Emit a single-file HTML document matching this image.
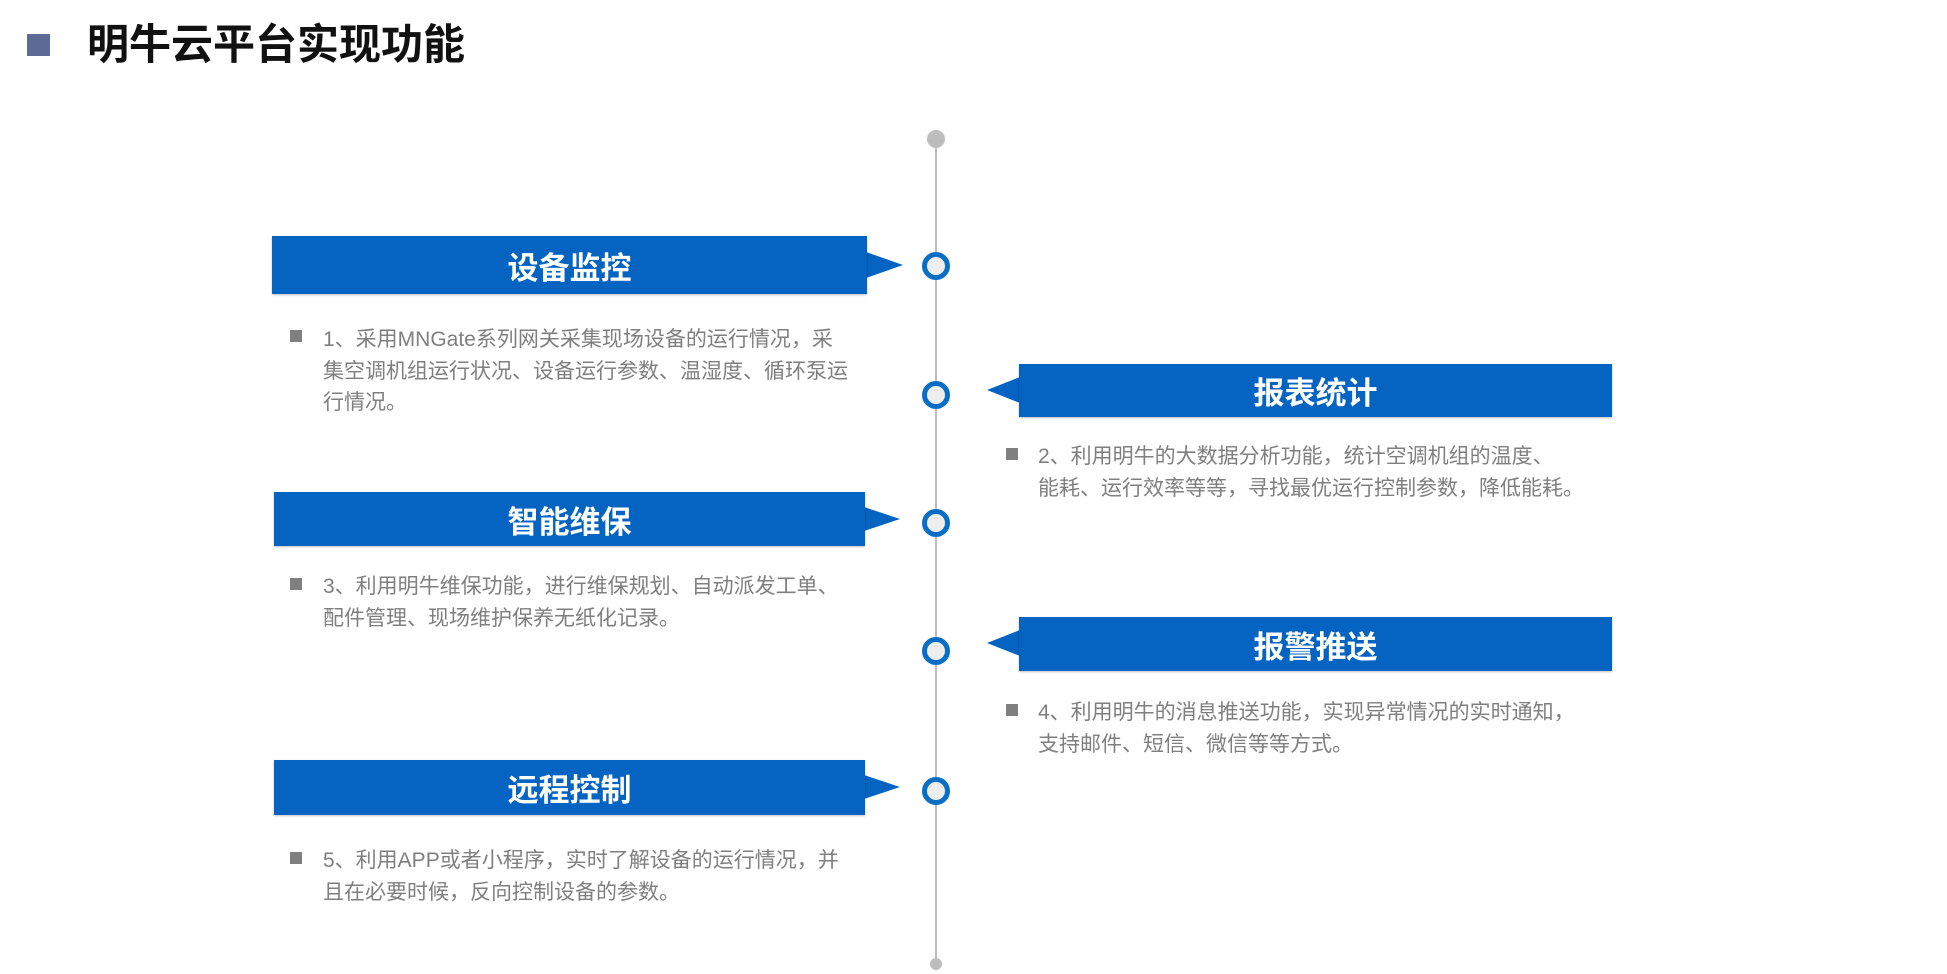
<!DOCTYPE html>
<html><head><meta charset="utf-8"><style>
body{margin:0;width:1947px;height:974px;background:#fff;position:relative;overflow:hidden;font-family:"Liberation Sans","Noto Sans CJK SC",sans-serif}
.a{position:absolute}
.box{position:absolute;background:#0563c1;color:#fff;font-weight:bold;font-size:31px;display:flex;align-items:center;justify-content:center;box-shadow:0 1px 2px rgba(0,0,0,.25)}
.t{position:absolute;color:#7f7f7f;font-size:21px;line-height:31.5px;white-space:nowrap}
.b{position:absolute;width:12px;height:12px;background:#7f7f7f}
.c{position:absolute;width:18px;height:18px;border:5.5px solid #0a6fc4;border-radius:50%;background:#eee}
</style></head><body>
<div class="a" style="left:27px;top:34px;width:23px;height:22px;background:#5b6b96"></div>
<div class="a" style="left:87px;top:19px;font-size:42px;font-weight:bold;color:#111;line-height:52px">明牛云平台实现功能</div>
<div class="a" style="left:935px;top:139px;width:2px;height:826px;background:#bdbdbd"></div>
<div class="a" style="left:927px;top:130px;width:18px;height:18px;border-radius:50%;background:#bdbdbd"></div>
<div class="a" style="left:930px;top:958px;width:12px;height:12px;border-radius:50%;background:#bdbdbd"></div>
<div class="c" style="left:922px;top:252px"></div>
<div class="c" style="left:922px;top:381px"></div>
<div class="c" style="left:922px;top:509px"></div>
<div class="c" style="left:922px;top:637px"></div>
<div class="c" style="left:922px;top:777px"></div>
<svg class="a" style="left:0;top:0" width="1947" height="974">
<polygon points="866,252 903,265 866,278" fill="#0563c1"/>
<polygon points="864,507 900,519 864,531" fill="#0563c1"/>
<polygon points="864,775 900,787 864,799" fill="#0563c1"/>
<polygon points="1020,377 987,390 1020,403" fill="#0563c1"/>
<polygon points="1020,630 987,643 1020,656" fill="#0563c1"/>
</svg>
<div class="box" style="left:272px;top:236px;width:595px;height:58px">设备监控</div>
<div class="box" style="left:274px;top:492px;width:591px;height:54px">智能维保</div>
<div class="box" style="left:274px;top:760px;width:591px;height:55px">远程控制</div>
<div class="box" style="left:1019px;top:364px;width:593px;height:53px">报表统计</div>
<div class="box" style="left:1019px;top:617px;width:593px;height:54px">报警推送</div>
<div class="b" style="left:290px;top:330px"></div>
<div class="t" style="left:323px;top:324px">1、采用MNGate系列网关采集现场设备的运行情况，采<br>集空调机组运行状况、设备运行参数、温湿度、循环泵运<br>行情况。</div>
<div class="b" style="left:1006px;top:448px"></div>
<div class="t" style="left:1038px;top:441px">2、利用明牛的大数据分析功能，统计空调机组的温度、<br>能耗、运行效率等等，寻找最优运行控制参数，降低能耗。</div>
<div class="b" style="left:290px;top:578px"></div>
<div class="t" style="left:323px;top:571px">3、利用明牛维保功能，进行维保规划、自动派发工单、<br>配件管理、现场维护保养无纸化记录。</div>
<div class="b" style="left:1006px;top:704px"></div>
<div class="t" style="left:1038px;top:697px">4、利用明牛的消息推送功能，实现异常情况的实时通知，<br>支持邮件、短信、微信等等方式。</div>
<div class="b" style="left:290px;top:852px"></div>
<div class="t" style="left:323px;top:845px">5、利用APP或者小程序，实时了解设备的运行情况，并<br>且在必要时候，反向控制设备的参数。</div>
</body></html>
